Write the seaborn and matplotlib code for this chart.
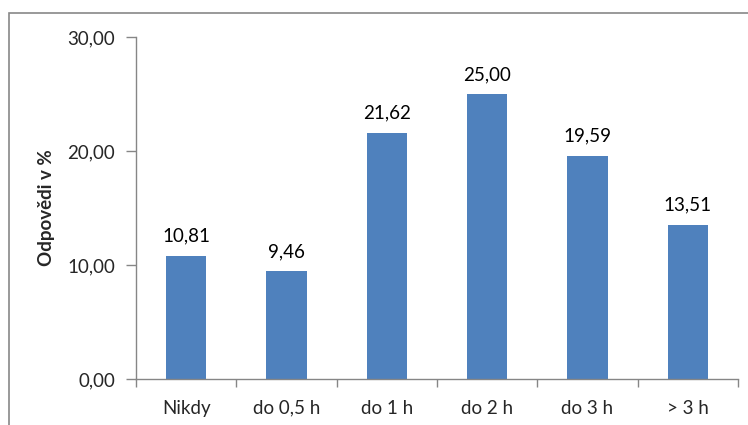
import matplotlib
matplotlib.use("Agg")
import matplotlib.pyplot as plt
import seaborn as sns
import numpy as np
import pandas as pd
from matplotlib.patches import Rectangle

categories = ["Nikdy", "do 0,5 h", "do 1 h", "do 2 h", "do 3 h", "> 3 h"]
values = [10.81, 9.46, 21.62, 25.00, 19.59, 13.51]
y_ticks = [0, 10, 20, 30]
y_label = "Odpovědi v %"

sns.set_theme(style="white")
plt.rcParams['font.family'] = ['Lato', 'DejaVu Sans']

df = pd.DataFrame({"cat": categories, "val": values})
fs = 13.5

fig = plt.figure(figsize=(7.48, 4.25), dpi=100)
ax = fig.add_axes([136/748, 1-379/425, (738-136)/748, (379-37)/425])
sns.barplot(data=df, x="cat", y="val", ax=ax, color="#4F81BD", saturation=1, width=0.4,
            linewidth=0)

ax.set_ylim(0, 30)
ax.set_xlim(-0.5, len(categories)-0.5)
ax.set_yticks(y_ticks)
ax.set_yticklabels([f"{v:.2f}".replace(".", ",") for v in y_ticks], fontsize=fs)
ax.set_xticks(range(len(categories)))
ax.set_xticklabels(categories, fontsize=fs)
ax.set_xticks(np.arange(-0.5, len(categories), 1), minor=True)
ax.tick_params(axis="x", which="major", length=0, pad=15)
ax.tick_params(axis="x", which="minor", length=6, color="#868686", width=1, direction="out", bottom=True)
ax.tick_params(axis="y", length=7, color="#868686", width=1, direction="out", left=True, pad=8)
ax.set_xlabel("")
ax.set_ylabel(y_label, fontsize=fs, fontweight="bold", labelpad=9)
for s in ["top", "right"]:
    ax.spines[s].set_visible(False)
for s in ["left", "bottom"]:
    ax.spines[s].set_color("#868686")
    ax.spines[s].set_linewidth(1)

for i, v in enumerate(values):
    ax.annotate(f"{v:.2f}".replace(".", ","), (i, v), xytext=(0, 8), textcoords="offset points",
                ha="center", va="bottom", fontsize=fs, color="black")

fig.patches.append(Rectangle((8.5/748, -0.5), 2.0, 1.5 - 12.5/425, transform=fig.transFigure,
                             fill=False, edgecolor="#888888", linewidth=1.2, figure=fig))

fig.savefig("out.png", dpi=100)
